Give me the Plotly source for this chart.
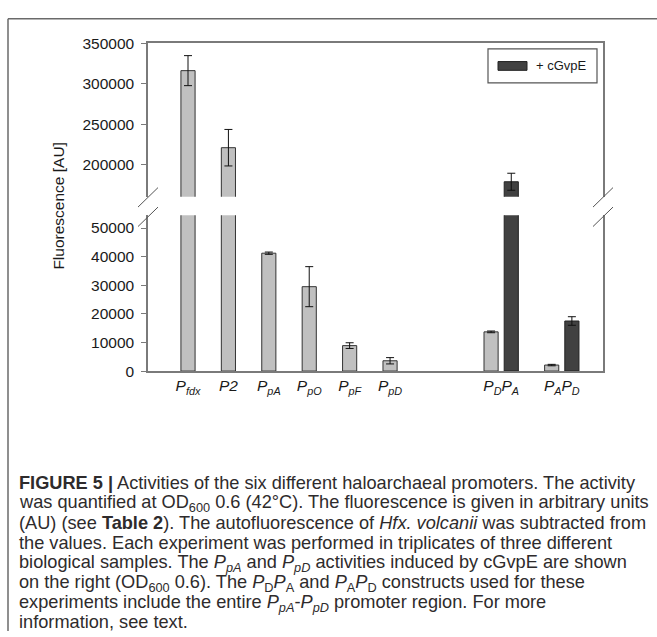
import plotly.graph_objects as go

W, H = 657, 637

# ---- data -------------------------------------------------------------
categories = ["P_fdx", "P2", "P_pA", "P_pO", "P_pF", "P_pD", "P_DP_A", "P_AP_D"]
tick_labels = [
    "<i>P</i><sub><i>fdx</i></sub>",
    "<i>P2</i>",
    "<i>P</i><sub><i>pA</i></sub>",
    "<i>P</i><sub><i>pO</i></sub>",
    "<i>P</i><sub><i>pF</i></sub>",
    "<i>P</i><sub><i>pD</i></sub>",
    "<i>P</i><sub><i>D</i></sub><i>P</i><sub><i>A</i></sub>",
    "<i>P</i><sub><i>A</i></sub><i>P</i><sub><i>D</i></sub>",
]
promoter_activity = [316000, 221000, 41200, 29500, 8900, 3600, 13700, 2100]
promoter_error = [18500, 22500, 400, 7000, 1000, 1100, 300, 250]

induced_categories = ["P_DP_A", "P_AP_D"]
induced_activity = [179000, 17500]
induced_error = [10500, 1500]

upper_ticks = [200000, 250000, 300000, 350000]
lower_ticks = [0, 10000, 20000, 30000, 40000, 50000]

# ---- layout helpers ---------------------------------------------------
def fx(px):
    return px / W


def fy(py):
    return 1 - py / H


# category slots along the x axis; the two constructs are paired bars
slot = {c: float(i) for i, c in enumerate(categories[:6])}
slot.update({"P_DP_A": 7.75, "P_AP_D": 9.25})
pair_offset = 0.25
x_plain = [slot[c] - (pair_offset if c in induced_categories else 0.0) for c in categories]
x_induced = [slot[c] + pair_offset for c in induced_categories]
tick_pos = [slot[c] for c in categories]

LIGHT = "#c0c0c0"
DARK = "#414141"
AXIS = "#7a7a7a"
TEXT = "#1a1a1a"
FONT = "Liberation Sans, Arial, sans-serif"
BAR_W = 0.35

fig = go.Figure()

for xa, ya in (("x", "y"), ("x2", "y2")):
    fig.add_trace(go.Bar(
        x=x_plain, y=promoter_activity, width=BAR_W,
        marker=dict(color=LIGHT, line=dict(color="#333333", width=1)),
        error_y=dict(type="data", array=promoter_error, color="#111111",
                     thickness=1, width=4),
        xaxis=xa, yaxis=ya, showlegend=False, name="promoter",
    ))
    fig.add_trace(go.Bar(
        x=x_induced, y=induced_activity, width=BAR_W,
        marker=dict(color=DARK, line=dict(color="#222222", width=1)),
        error_y=dict(type="data", array=induced_error, color="#111111",
                     thickness=1, width=4),
        xaxis=xa, yaxis=ya, showlegend=False, name="+ cGvpE",
    ))

x_range = [-0.99, 10.27]
x_dom = [fx(148), fx(603)]
tick_font = dict(size=15.5, family=FONT, color=TEXT)

fig.update_layout(
    width=W, height=H,
    margin=dict(l=0, r=0, t=0, b=0),
    paper_bgcolor="white", plot_bgcolor="white",
    barmode="overlay",
    font=dict(family=FONT, color=TEXT),
    xaxis=dict(
        domain=x_dom, range=x_range, anchor="y",
        tickmode="array", tickvals=tick_pos, ticktext=tick_labels,
        ticks="", showgrid=False, zeroline=False,
        showline=True, linecolor=AXIS, linewidth=1.5,
        tickfont=tick_font,
    ),
    xaxis2=dict(
        domain=x_dom, range=x_range, anchor="y2", matches="x", side="top",
        showticklabels=False, ticks="", showgrid=False, zeroline=False,
        showline=True, linecolor=AXIS, linewidth=1.5,
    ),
    yaxis=dict(
        domain=[fy(372), fy(212)], range=[0, 54430], anchor="x",
        tickmode="array", tickvals=lower_ticks,
        ticktext=[str(v) for v in lower_ticks],
        ticks="outside", ticklen=5, tickcolor=AXIS, tickwidth=1.2,
        ticklabelstandoff=4,
        showgrid=False, zeroline=False,
        showline=True, mirror=True, linecolor=AXIS, linewidth=1.5,
        tickfont=tick_font,
    ),
    yaxis2=dict(
        domain=[fy(193), fy(35)], range=[160400, 350000], anchor="x2",
        tickmode="array", tickvals=upper_ticks,
        ticktext=[str(v) for v in upper_ticks],
        ticks="outside", ticklen=5, tickcolor=AXIS, tickwidth=1.2,
        ticklabelstandoff=4,
        showgrid=False, zeroline=False,
        showline=True, mirror=True, linecolor=AXIS, linewidth=1.5,
        tickfont=tick_font,
    ),
)

shapes = []
# outer figure frame (left and top edges)
shapes.append(dict(type="line", xref="paper", yref="paper",
                   x0=fx(8), y0=fy(10), x1=fx(8), y1=fy(H + 2),
                   line=dict(color="#6a6a6a", width=1.5)))
shapes.append(dict(type="line", xref="paper", yref="paper",
                   x0=fx(8), y0=fy(10), x1=fx(W + 2), y1=fy(10),
                   line=dict(color="#6a6a6a", width=1.5)))

# axis-break marks on both vertical axes
for cx in (148, 603):
    for cy in (193.5, 213.5):
        shapes.append(dict(type="line", xref="paper", yref="paper",
                           x0=fx(cx - 10), y0=fy(cy + 10),
                           x1=fx(cx + 10), y1=fy(cy - 10),
                           line=dict(color="#555555", width=1)))

# legend box with swatch
shapes.append(dict(type="rect", xref="paper", yref="paper",
                   x0=fx(488), y0=fy(76), x1=fx(597), y1=fy(41),
                   line=dict(color="#555555", width=1.2), fillcolor="white"))
shapes.append(dict(type="rect", xref="paper", yref="paper",
                   x0=fx(498), y0=fy(63), x1=fx(527), y1=fy(54),
                   line=dict(color="#222222", width=1), fillcolor=DARK))
fig.update_layout(shapes=shapes)

annotations = [
    dict(text="+ cGvpE", x=fx(534), y=fy(58.5), xref="paper", yref="paper",
         xanchor="left", yanchor="middle", showarrow=False,
         font=dict(size=13, family=FONT, color=TEXT)),
    dict(text="Fluorescence [AU]", x=fx(59), y=fy(202), xref="paper", yref="paper",
         xanchor="center", yanchor="middle", textangle=-90, showarrow=False,
         font=dict(size=15.5, family=FONT, color=TEXT)),
]

caption_lines = [
    "<b>FIGURE 5 |</b> Activities of the six different haloarchaeal promoters. The activity",
    "was quantified at OD<sub>600</sub> 0.6 (42°C). The fluorescence is given in arbitrary units",
    "(AU) (see <b>Table 2</b>). The autofluorescence of <i>Hfx. volcanii</i> was subtracted from",
    "the values. Each experiment was performed in triplicates of three different",
    "biological samples. The <i>P<sub>pA</sub></i> and <i>P<sub>pD</sub></i> activities induced by cGvpE are shown",
    "on the right (OD<sub>600</sub> 0.6). The <i>P</i><sub>D</sub><i>P</i><sub>A</sub> and "
    "<i>P</i><sub>A</sub><i>P</i><sub>D</sub> constructs used for these",
    "experiments include the entire <i>P<sub>pA</sub></i>-<i>P<sub>pD</sub></i> promoter region. For more",
    "information, see text.",
]
caption_y = [487, 508, 528.5, 549, 570, 590.5, 611, 630]
for line, cy in zip(caption_lines, caption_y):
    annotations.append(dict(
        text=line, x=fx(17), y=fy(cy), xref="paper", yref="paper",
        xanchor="left", yanchor="middle", showarrow=False,
        font=dict(size=18.2, family=FONT, color="#2e2b2c"),
    ))
fig.update_layout(annotations=annotations)

fig.write_html("out.html")
